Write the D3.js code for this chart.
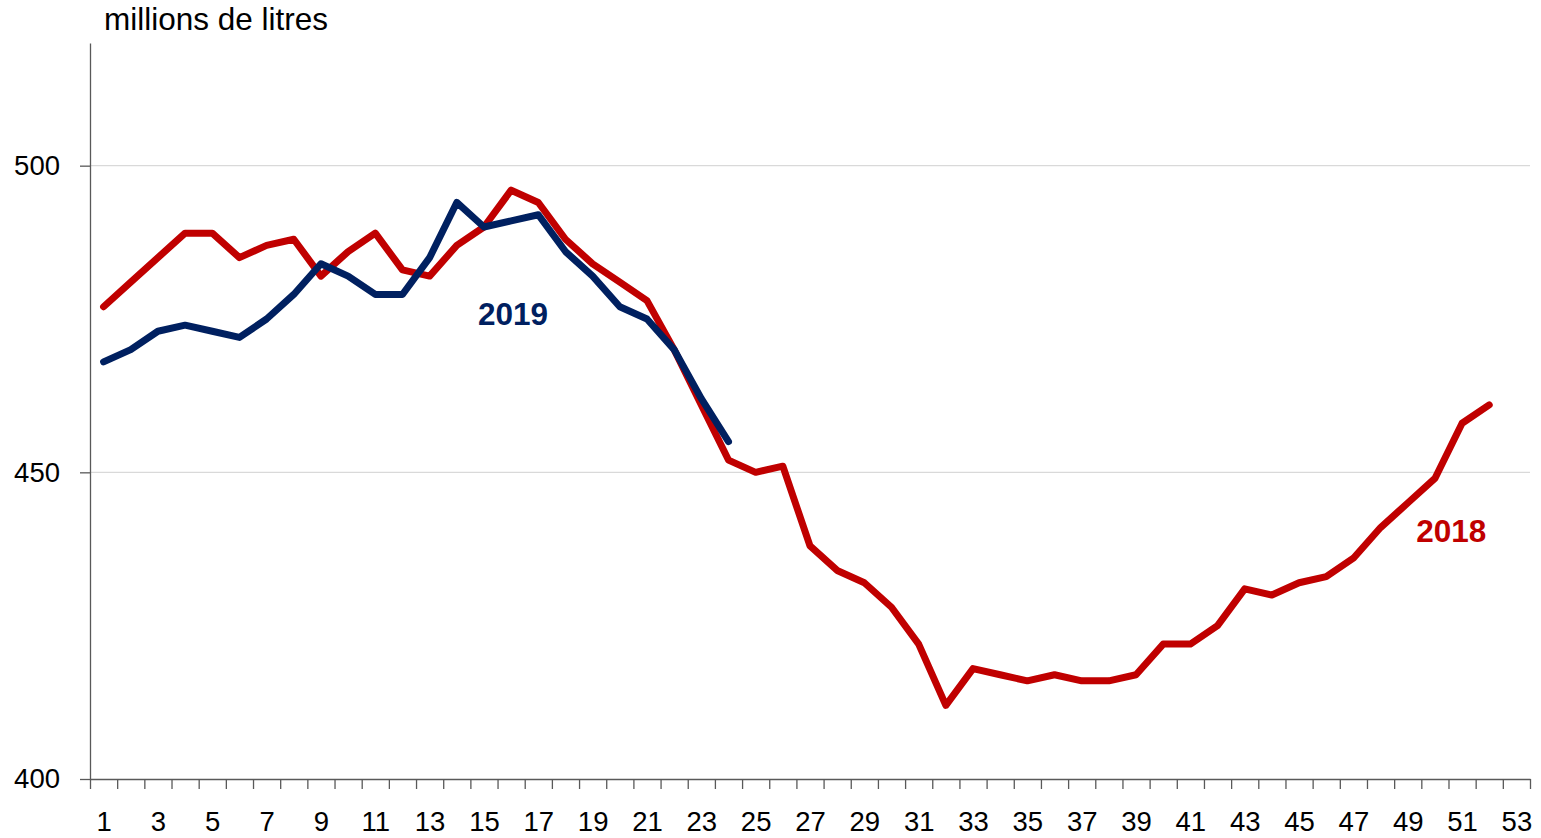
<!DOCTYPE html>
<html>
<head>
<meta charset="utf-8">
<script src="https://cdn.jsdelivr.net/npm/d3@7"></script>
<style>
  html, body { margin: 0; padding: 0; background: #fff; }
  svg { display: block; }
</style>
</head>
<body>
<svg id="chart" width="1541" height="838"></svg>
<script>
// ---- data ----
const weeks = d3.range(1, 54);
const weekLabels = d3.range(1, 54, 2);
const yTicks = [400, 450, 500];
const values2018 = [477, 481, 485, 489, 489, 485, 487, 488, 482, 486, 489, 483, 482, 487, 490, 496, 494, 488, 484, 481, 478, 470, 461, 452, 450, 451, 438, 434, 432, 428, 422, 412, 418, 417, 416, 417, 416, 416, 417, 422, 422, 425, 431, 430, 432, 433, 436, 441, 445, 449, 458, 461];
const values2019 = [468, 470, 473, 474, 473, 472, 475, 479, 484, 482, 479, 479, 485, 494, 490, 491, 492, 486, 482, 477, 475, 470, 462, 455];
const seriesNames = ["2018", "2019"];
const seriesColors = ["#C00000", "#002060"];
const unitLabel = "millions de litres";

// ---- layout ----
const mLeft = 90, mRight = 1530, mTop = 43, mBottom = 779;
const svg = d3.select("#chart");

const x = d3.scaleLinear().domain([0.5, 53.5]).range([mLeft, mRight]);
const y = d3.scaleLinear().domain([400, 520]).range([mBottom, mTop]);

// gridlines
svg.append("g")
  .selectAll("line")
  .data(yTicks.filter(d => d > 400))
  .join("line")
  .attr("x1", mLeft).attr("x2", mRight)
  .attr("y1", d => y(d)).attr("y2", d => y(d))
  .attr("stroke", "#d9d9d9").attr("stroke-width", 1.3);

// y axis
const yAxis = svg.append("g")
  .attr("transform", `translate(${mLeft},0)`)
  .call(d3.axisLeft(y).tickValues(yTicks).tickSize(10).tickSizeOuter(0).tickPadding(20).tickFormat(d3.format("d")));
yAxis.selectAll("text").attr("font-family", "'Liberation Sans', Arial, sans-serif").attr("font-size", 27.5).attr("fill", "#000");

// x axis: boundary ticks
svg.append("g")
  .attr("transform", `translate(0,${mBottom})`)
  .call(d3.axisBottom(x).tickValues(d3.range(0.5, 54, 1)).tickSize(10).tickSizeOuter(0).tickFormat(""));

// x axis: labels
const xLabAxis = svg.append("g")
  .attr("transform", `translate(0,${mBottom})`)
  .call(d3.axisBottom(x).tickValues(weekLabels).tickSize(0).tickPadding(32).tickFormat(d3.format("d")));
xLabAxis.select(".domain").remove();
xLabAxis.selectAll("text").attr("font-family", "'Liberation Sans', Arial, sans-serif").attr("font-size", 27.5).attr("fill", "#000");

svg.selectAll(".domain, .tick line").attr("stroke", "#595959").attr("stroke-width", 1.3);

// lines
const line = d3.line().x((d, i) => x(weeks[i])).y(d => y(d));
const allSeries = [values2018, values2019];
svg.append("g")
  .selectAll("path")
  .data(allSeries)
  .join("path")
  .attr("d", d => line(d))
  .attr("fill", "none")
  .attr("stroke", (d, i) => seriesColors[i])
  .attr("stroke-width", 7)
  .attr("stroke-linejoin", "round")
  .attr("stroke-linecap", "round");

// series labels
const labelPos = [{week: 50.6, value: 438.7}, {week: 16.07, value: 474.1}];
svg.append("g")
  .selectAll("text")
  .data(seriesNames)
  .join("text")
  .attr("x", (d, i) => x(labelPos[i].week))
  .attr("y", (d, i) => y(labelPos[i].value))
  .attr("text-anchor", "middle")
  .attr("font-family", "'Liberation Sans', Arial, sans-serif")
  .attr("font-weight", "bold")
  .attr("font-size", 31.5)
  .attr("fill", (d, i) => seriesColors[i])
  .text(d => d);

// unit label
svg.append("text")
  .attr("x", 104)
  .attr("y", 30)
  .attr("font-family", "'Liberation Sans', Arial, sans-serif")
  .attr("font-size", 31.5)
  .attr("fill", "#000")
  .text(unitLabel);
</script>
</body>
</html>
